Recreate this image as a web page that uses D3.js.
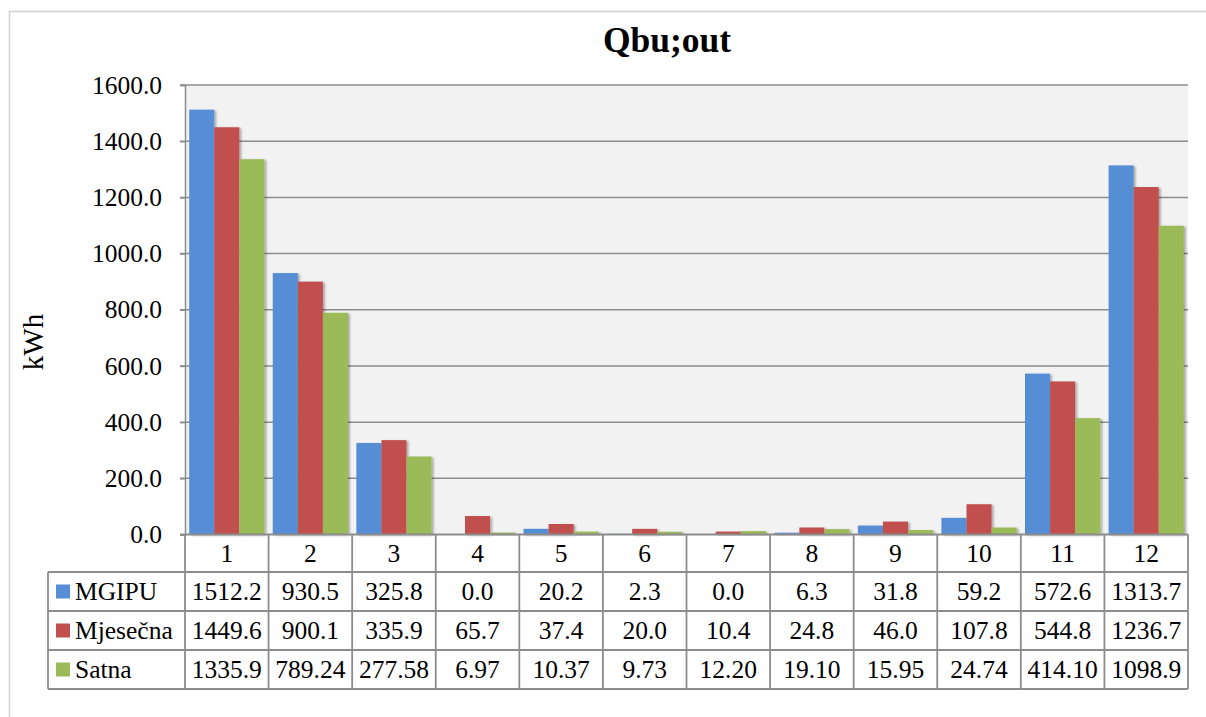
<!DOCTYPE html>
<html>
<head>
<meta charset="utf-8">
<script src="https://cdn.jsdelivr.net/npm/d3@7"></script>
<style>
    body { margin: 0; background: #fff; }
    svg text { font-family: "Liberation Serif", "Times New Roman", Times, serif; fill: #000; }
</style>
</head>
<body>
<div id="chart"></div>
<script>
var months = ["1", "2", "3", "4", "5", "6", "7", "8", "9", "10", "11", "12"];
var seriesNames = ["MGIPU", "Mjesečna", "Satna"];
var mgipu = [1512.2, 930.5, 325.8, 0.0, 20.2, 2.3, 0.0, 6.3, 31.8, 59.2, 572.6, 1313.7];
var mjesecna = [1449.6, 900.1, 335.9, 65.7, 37.4, 20.0, 10.4, 24.8, 46.0, 107.8, 544.8, 1236.7];
var satna = [1335.9, 789.24, 277.58, 6.97, 10.37, 9.73, 12.20, 19.10, 15.95, 24.74, 414.10, 1098.9];
var yTicks = [0, 200, 400, 600, 800, 1000, 1200, 1400, 1600];
var colors = ["#558ed5", "#c0504d", "#9bbb59"];

var seriesValues = [mgipu, mjesecna, satna];
var seriesFormats = [
    function (v) { return d3.format(".1f")(v); },
    function (v) { return d3.format(".1f")(v); },
    function (v) { return d3.format(v >= 1000 ? ".1f" : ".2f")(v); }
];

var serif = "'Liberation Serif', 'Times New Roman', Times, serif";
var width = 1206, height = 717;
var plot = { left: 185, right: 1188, top: 85, bottom: 534.5 };
var rowTops = [534.5, 572, 611, 650, 689];
var legendLeft = 48;

var svg = d3.select("#chart").append("svg")
    .attr("width", width)
    .attr("height", height)
    .attr("font-family", serif);

var defs = svg.append("defs");
var shadow = defs.append("filter")
    .attr("id", "shadow")
    .attr("x", "-20%").attr("y", "-20%")
    .attr("width", "150%").attr("height", "150%");
shadow.append("feDropShadow")
    .attr("dx", 2).attr("dy", 1)
    .attr("stdDeviation", 1.2)
    .attr("flood-color", "#000")
    .attr("flood-opacity", 0.3);

// chart border
svg.append("rect")
    .attr("x", 9.5).attr("y", 11.5)
    .attr("width", 1205).attr("height", 720)
    .attr("fill", "none")
    .attr("stroke", "#d0d0d0")
    .attr("stroke-width", 1.5);

// title
svg.append("text")
    .attr("x", 667)
    .attr("y", 52)
    .attr("text-anchor", "middle")
    .attr("font-size", "35.5px")
    .attr("font-weight", "bold")
    .text("Qbu;out");

var x = d3.scaleBand().domain(months).range([plot.left, plot.right]);
var step = x.step();
var x1 = d3.scaleBand().domain(seriesNames).range([step * 0.05, step * 0.95]);
var y = d3.scaleLinear().domain([0, 1600]).range([plot.bottom, plot.top]);

// plot area
svg.append("rect")
    .attr("x", plot.left).attr("y", plot.top)
    .attr("width", plot.right - plot.left)
    .attr("height", plot.bottom - plot.top)
    .attr("fill", "#f2f2f2");

// gridlines
svg.append("g")
    .selectAll("line")
    .data(yTicks.slice(1))
    .join("line")
    .attr("x1", plot.left - 5).attr("x2", plot.right)
    .attr("y1", d => y(d)).attr("y2", d => y(d))
    .attr("stroke", "#8c8c8c")
    .attr("stroke-width", 1.5);

// y axis
var yAxis = svg.append("g")
    .attr("transform", "translate(" + plot.left + ",0)")
    .call(d3.axisLeft(y).tickValues(yTicks).tickFormat(d3.format(".1f")).tickSize(5).tickPadding(18));
yAxis.attr("font-family", serif).attr("font-size", "25.5px");
yAxis.select(".domain").attr("stroke", "#8c8c8c").attr("stroke-width", 1.5);
yAxis.selectAll(".tick line").attr("stroke", "#8c8c8c").attr("stroke-width", 1.5);
yAxis.selectAll("text").attr("fill", "#000");

svg.append("text")
    .attr("transform", "translate(43,342) rotate(-90)")
    .attr("text-anchor", "middle")
    .attr("font-size", "29px")
    .text("kWh");

// bars
var groups = svg.append("g")
    .selectAll("g")
    .data(months)
    .join("g")
    .attr("transform", d => "translate(" + x(d) + ",0)");

groups.selectAll("rect")
    .data((m, i) => seriesNames.map((s, k) => ({ series: s, k: k, value: seriesValues[k][i] })))
    .join("rect")
    .attr("x", d => x1(d.series))
    .attr("y", d => y(d.value))
    .attr("width", x1.bandwidth())
    .attr("height", d => y(0) - y(d.value))
    .attr("fill", d => colors[d.k])
    .attr("filter", "url(#shadow)");

// data table
var table = svg.append("g").attr("class", "table");
var lineColor = "#8c8c8c";

table.selectAll("line.h")
    .data(rowTops)
    .join("line")
    .attr("class", "h")
    .attr("x1", (d, i) => i < 1 ? plot.left - 5 : legendLeft)
    .attr("x2", plot.right)
    .attr("y1", d => d).attr("y2", d => d)
    .attr("stroke", lineColor)
    .attr("stroke-width", 1.8);

var colEdges = months.map(m => x(m)).concat([plot.right]);
table.selectAll("line.v")
    .data(colEdges)
    .join("line")
    .attr("class", "v")
    .attr("x1", d => d).attr("x2", d => d)
    .attr("y1", rowTops[0]).attr("y2", rowTops[4])
    .attr("stroke", lineColor)
    .attr("stroke-width", 1.8);

table.append("line")
    .attr("x1", legendLeft).attr("x2", legendLeft)
    .attr("y1", rowTops[1]).attr("y2", rowTops[4])
    .attr("stroke", lineColor)
    .attr("stroke-width", 1.8);

table.selectAll("text.month")
    .data(months)
    .join("text")
    .attr("class", "month")
    .attr("x", d => x(d) + step / 2)
    .attr("y", (rowTops[0] + rowTops[1]) / 2)
    .attr("dy", "0.35em")
    .attr("text-anchor", "middle")
    .attr("font-size", "25.5px")
    .text(d => d);

seriesNames.forEach(function (name, k) {
    var cy = (rowTops[k + 1] + rowTops[k + 2]) / 2;
    table.append("rect")
        .attr("x", 56).attr("y", cy - 7)
        .attr("width", 14).attr("height", 14)
        .attr("fill", colors[k]);
    table.append("text")
        .attr("x", 75).attr("y", cy)
        .attr("dy", "0.35em")
        .attr("font-size", "25.5px")
        .text(name);
    table.selectAll("text.val" + k)
        .data(seriesValues[k])
        .join("text")
        .attr("class", "val" + k)
        .attr("x", (d, i) => x(months[i]) + step / 2)
        .attr("y", cy)
        .attr("dy", "0.35em")
        .attr("text-anchor", "middle")
        .attr("font-size", "25.5px")
        .text(d => seriesFormats[k](d));
});
</script>
</body>
</html>
